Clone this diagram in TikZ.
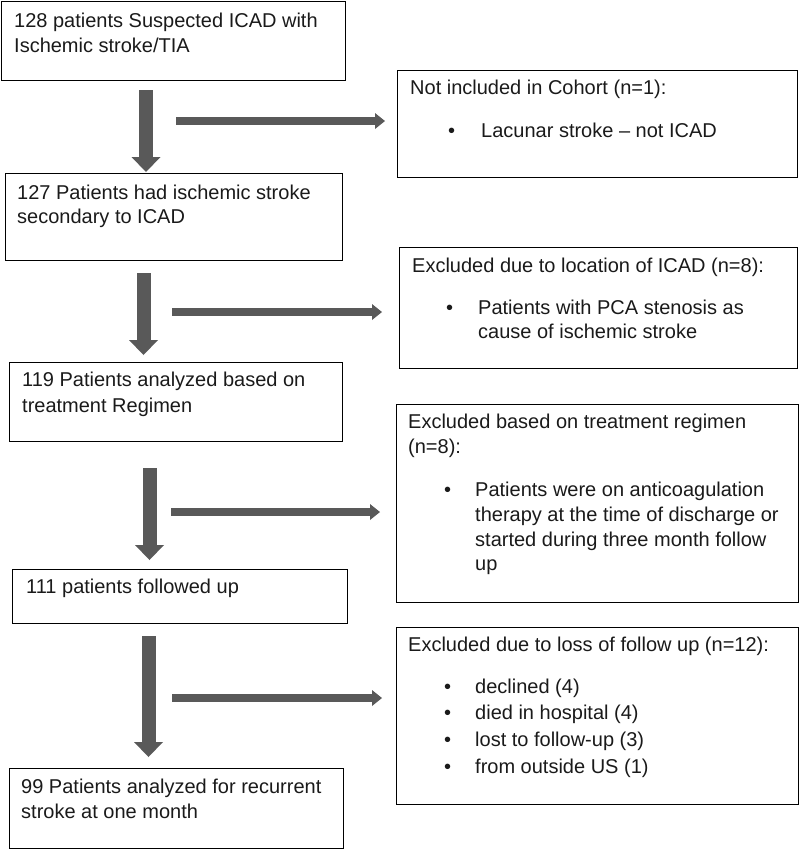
\documentclass[tikz,border=0pt]{standalone}
\usepackage{fontspec}
\setmainfont{Liberation Sans}
\usetikzlibrary{arrows.meta}
\definecolor{arrowgray}{HTML}{595959}
\definecolor{txtcol}{HTML}{1A1A1A}
\begin{document}
\begin{tikzpicture}[x=1pt,y=-1pt,
  box/.style={draw=black,line width=1.4pt,inner sep=0pt,anchor=north west},
  txt/.style={anchor=base west,inner sep=0pt,text=txtcol,font=\fontsize{20}{25}\selectfont},
  dn/.style={draw=arrowgray,line width=14pt,-{Triangle[width=29pt,length=15pt,line width=0pt]}},
  rt/.style={draw=arrowgray,line width=8pt,-{Triangle[width=16pt,length=10pt,line width=0pt]}}]
\useasboundingbox (0,0) rectangle (800,849);
% left boxes
\node[box,minimum width=344pt,minimum height=79pt] (b1) at (0.7,0.7) {};
\node[box,minimum width=337pt,minimum height=87pt] (b2) at (5,173) {};
\node[box,minimum width=333pt,minimum height=79pt] (b3) at (9,362) {};
\node[box,minimum width=335pt,minimum height=54pt] (b4) at (12,569) {};
\node[box,minimum width=334pt,minimum height=80pt] (b5) at (9,768) {};
% right boxes
\node[box,minimum width=400pt,minimum height=107pt] (r1) at (397,70) {};
\node[box,minimum width=398pt,minimum height=121pt] (r2) at (399,247) {};
\node[box,minimum width=402pt,minimum height=198pt] (r3) at (396,404) {};
\node[box,minimum width=402pt,minimum height=177pt] (r4) at (396,627) {};
% left texts
\node[txt] (t1a) at (14,27) {128 patients Suspected ICAD with};
\node[txt] (t1b) at (14,52) {Ischemic stroke/TIA};
\node[txt] (t2a) at (17,199) {127 Patients had ischemic stroke};
\node[txt] (t2b) at (17,223) {secondary to ICAD};
\node[txt] (t3a) at (22,386) {119 Patients analyzed based on};
\node[txt] (t3b) at (22,412) {treatment Regimen};
\node[txt] (t4a) at (26,593) {111 patients followed up};
\node[txt] (t5a) at (21,793) {99 Patients analyzed for recurrent};
\node[txt] (t5b) at (21,818) {stroke at one month};
% right texts
\node[txt] (s1h) at (410,94) {Not included in Cohort (n=1):};
\node[txt] (s1d) at (448,137) {•};
\node[txt] (s1a) at (481,137) {Lacunar stroke – not ICAD};
\node[txt] (s2h) at (412,272) {Excluded due to location of ICAD (n=8):};
\node[txt] (s2d) at (446,314) {•};
\node[txt] (s2a) at (478,314) {Patients with PCA stenosis as};
\node[txt] (s2b) at (478,338) {cause of ischemic stroke};
\node[txt] (s3h) at (408,428) {Excluded based on treatment regimen};
\node[txt] (s3i) at (408,453) {(n=8):};
\node[txt] (s3d) at (444,496) {•};
\node[txt] (s3a) at (475,496) {Patients were on anticoagulation};
\node[txt] (s3b) at (475,521) {therapy at the time of discharge or};
\node[txt] (s3c) at (475,546) {started during three month follow};
\node[txt] (s3e) at (475,570) {up};
\node[txt] (s4h) at (408,651) {Excluded due to loss of follow up (n=12):};
\node[txt] (s4d1) at (444,693) {•};
\node[txt] (s4a) at (475,693) {declined (4)};
\node[txt] (s4d2) at (444,719) {•};
\node[txt] (s4b) at (475,719) {died in hospital (4)};
\node[txt] (s4d3) at (444,746) {•};
\node[txt] (s4c) at (475,746) {lost to follow-up (3)};
\node[txt] (s4d4) at (444,773) {•};
\node[txt] (s4e) at (475,773) {from outside US (1)};
% arrow columns
\coordinate (x1) at (146,0);
\coordinate (x2) at (143.5,0);
\coordinate (x3) at (149.5,0);
\coordinate (x4) at (148.5,0);
\draw[dn,shorten <=9pt,shorten >=1pt] (x1 |- b1.south) -- (x1 |- b2.north);
\draw[dn,shorten <=12pt,shorten >=7pt] (x2 |- b2.south) -- (x2 |- b3.north);
\draw[dn,shorten <=26pt,shorten >=9pt] (x3 |- b3.south) -- (x3 |- b4.north);
\draw[dn,shorten <=12pt,shorten >=11pt] (x4 |- b4.south) -- (x4 |- b5.north);
% side arrows
\coordinate (h1) at (176,121);
\coordinate (h2) at (172,312);
\coordinate (h3) at (171,512);
\coordinate (h4) at (172,698);
\draw[rt,shorten >=12pt] (h1) -- (h1 -| r1.west);
\draw[rt,shorten >=17pt] (h2) -- (h2 -| r2.west);
\draw[rt,shorten >=16pt] (h3) -- (h3 -| r3.west);
\draw[rt,shorten >=14pt] (h4) -- (h4 -| r4.west);
\end{tikzpicture}
\end{document}
